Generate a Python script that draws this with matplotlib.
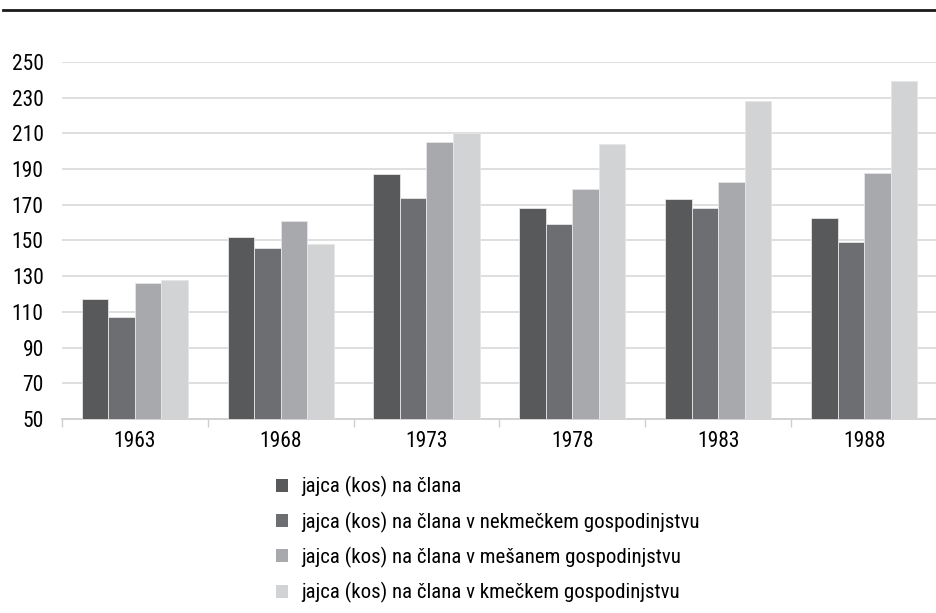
import matplotlib
matplotlib.use('Agg')
import matplotlib.pyplot as plt
import numpy as np
from matplotlib.lines import Line2D
from matplotlib.patches import Patch

plt.rcParams['font.family'] = ['Roboto Condensed', 'DejaVu Sans']

# data
years = ['1963', '1968', '1973', '1978', '1983', '1988']
series_names = [
    'jajca (kos) na člana',
    'jajca (kos) na člana v nekmečkem gospodinjstvu',
    'jajca (kos) na člana v mešanem gospodinjstvu',
    'jajca (kos) na člana v kmečkem gospodinjstvu',
]
vse = [117, 152, 187, 168, 173, 162.5]
nekmecko = [107, 146, 174, 159, 168, 149]
mesano = [126, 161, 205, 179, 183, 188]
kmecko = [128, 148, 210, 204, 228, 239.5]
yticks = [50, 70, 90, 110, 130, 150, 170, 190, 210, 230, 250]

colors = ['#58595b', '#6d6e71', '#a7a9ac', '#d1d3d4']

fig = plt.figure(figsize=(9.37, 6.13), dpi=100)
ax = fig.add_axes([0.066, 0.3165, 0.934, 0.5825])

x = np.arange(len(years))
w = 0.182
for i, vals in enumerate([vse, nekmecko, mesano, kmecko]):
    ax.bar(x + (i - 1.5) * w, np.array(vals) - 50, w, bottom=50,
           color=colors[i], edgecolor='#e6e6e6', linewidth=0.6, zorder=3)

ax.set_xlim(-0.5, len(years) - 0.5)
ax.set_ylim(50, 250)
ax.set_yticks(yticks)
ax.set_yticklabels([str(t) for t in yticks], fontsize=15.5)
ax.yaxis.grid(True, color='#dcdcdc', linewidth=1.3, zorder=0)
ax.tick_params(axis='y', length=0, pad=13)

ax.set_xticks(x)
ax.set_xticklabels(years, fontsize=15.5)
ax.tick_params(axis='x', length=0, pad=9)
ax.set_xticks(np.arange(len(years)) - 0.5, minor=True)
ax.tick_params(axis='x', which='minor', length=6, color='#cfcfcf', width=1)

for s in ['top', 'right', 'left']:
    ax.spines[s].set_visible(False)
ax.spines['bottom'].set_color('#d0d0d0')
ax.spines['bottom'].set_linewidth(1.3)

# top rule
fig.add_artist(Line2D([0.003, 1.0], [1 - 10 / 613] * 2, color='#1a1a1a', linewidth=2))

handles = [Patch(facecolor=c, edgecolor='none') for c in colors]
fig.legend(handles, series_names, loc='upper left', bbox_to_anchor=(0.2946, 0.223),
           frameon=False, fontsize=15, handlelength=0.58, handleheight=0.58,
           handletextpad=0.64, labelspacing=0.68, borderaxespad=0, borderpad=0)

fig.savefig('out.png', dpi=100)
